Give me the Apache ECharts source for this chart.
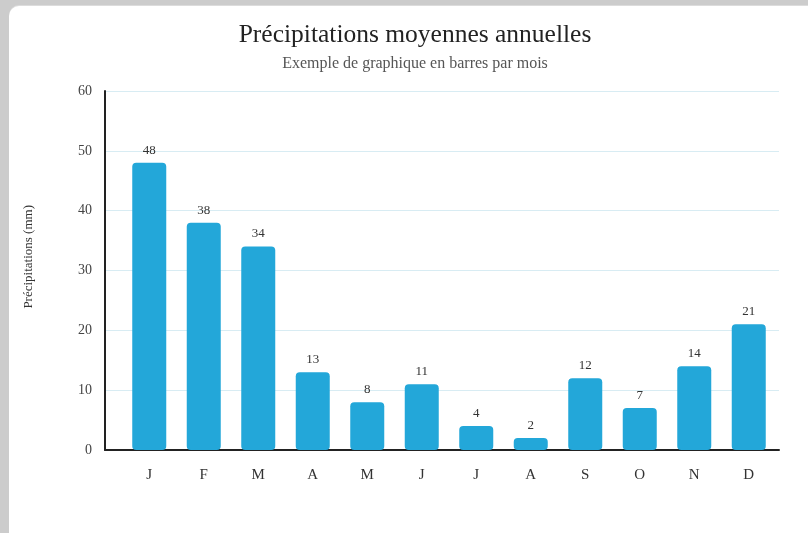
<!DOCTYPE html>
<html>
<head>
<meta charset="utf-8">
<script src="https://cdn.jsdelivr.net/npm/echarts@6/dist/echarts.min.js"></script>
<style>
html,body{margin:0;padding:0;background:#cccccc;width:808px;height:533px;overflow:hidden;}
#card{position:absolute;left:9px;top:6px;width:830px;height:560px;background:#fff;border-radius:10px;box-shadow:0 -1px 0 #dcdcdc;}
#chart{position:absolute;left:0;top:0;width:808px;height:533px;}
</style>
</head>
<body>
<div id="card"></div>
<div id="chart"></div>
<script>
const months = ['J','F','M','A','M','J','J','A','S','O','N','D'];
const rainfall = [48,38,34,13,8,11,4,2,12,7,14,21];
const yTicks = {min:0, max:60, interval:10};
const titleText = 'Précipitations moyennes annuelles';
const subtitleText = 'Exemple de graphique en barres par mois';
const yAxisTitle = 'Précipitations (mm)';

const font = '"Liberation Serif", "Times New Roman", serif';
const chart = echarts.init(document.getElementById('chart'), null, {renderer:'canvas'});
chart.setOption({
  animation:false,
  backgroundColor:'transparent',
  textStyle:{fontFamily:font},
  title:{
    text:titleText, subtext:subtitleText, left:410, textAlign:'center', top:17, itemGap:8,
    textStyle:{fontFamily:font,fontSize:25.5,fontWeight:'normal',color:'#222'},
    subtextStyle:{fontFamily:font,fontSize:16,color:'#555'}
  },
  graphic:[{
    type:'text', left:22, top:205, rotation:Math.PI/2,
    style:{text:yAxisTitle, font:'13px '+font, fill:'#333'}
  }],
  grid:[
    {left:105,right:29,top:91,bottom:83,containLabel:false},
    {left:122,right:32,top:91,bottom:83,containLabel:false}
  ],
  xAxis:[
    {type:'category',gridIndex:0,data:months,axisLine:{show:true,lineStyle:{color:'#222',width:2}},axisTick:{show:false},axisLabel:{show:false},splitLine:{show:false}},
    {type:'category',gridIndex:1,data:months,axisLine:{show:false},axisTick:{show:false},
     axisLabel:{show:true,margin:18,fontFamily:font,fontSize:15,color:'#333'}}
  ],
  yAxis:[
    {type:'value',gridIndex:0,min:yTicks.min,max:yTicks.max,interval:yTicks.interval,
     axisLine:{show:true,lineStyle:{color:'#222',width:2}},axisTick:{show:false},
     axisLabel:{margin:13,fontFamily:font,fontSize:14,color:'#444'},
     splitLine:{show:true,lineStyle:{color:'#d8ecf3',width:1}}},
    {type:'value',gridIndex:1,min:yTicks.min,max:yTicks.max,interval:yTicks.interval,show:false,splitLine:{show:false}}
  ],
  series:[{
    type:'bar',xAxisIndex:1,yAxisIndex:1,data:rainfall,barWidth:34,
    itemStyle:{color:'#23a7d9',borderRadius:4},
    label:{show:true,position:'top',distance:6,fontFamily:font,fontSize:13,color:'#333'}
  }]
});
</script>
</body>
</html>
